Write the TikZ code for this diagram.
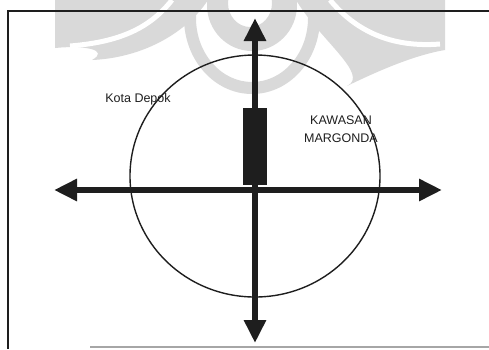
\documentclass[tikz,border=0pt]{standalone}
\usepackage{fontspec}
\setmainfont{Liberation Sans}
\usepackage{xcolor}
\usetikzlibrary{arrows.meta, positioning, shapes}
\definecolor{wmgray}{RGB}{217, 217, 217}
\definecolor{ink}{RGB}{30, 30, 30}

\begin{document}
\begin{tikzpicture}[x=1pt,y=-1pt]
        \useasboundingbox (0,0) rectangle (489,349);
        \tikzset{axis/.style={ink,line width=6pt,-{Triangle[length=23pt,width=21pt]}},
                 lbl/.style={font=\fontsize{12.5}{14}\selectfont,inner sep=0pt}}
        % watermark
        \begin{scope}
        \clip (0,0) rectangle (489,349);
        \fill[wmgray](55,0)--(208,0) .. controls (185,35) and (140,58) .. (92,60)
                 .. controls (110,50) and (85,45) .. (55,48)--cycle;
        \fill[wmgray](445,0)--(296,0) .. controls (320,40) and (370,75) .. (347,86)
                 .. controls (380,70) and (415,55) .. (445,50)--cycle;
        \draw[white,line width=5pt](172,0) .. controls (150,28) and (120,42) .. (70,46);
        \draw[white,line width=5pt](330,0) .. controls (355,30) and (390,48) .. (440,44);
        \fill[wmgray,even odd rule](252,18) ellipse[x radius=68,y radius=76]
                 (252,18) ellipse[x radius=56,y radius=64];
        \fill[wmgray,even odd rule](252,5) ellipse[x radius=45,y radius=46]
                 (250,3) ellipse[x radius=22,y radius=24];
        \end{scope}
        % frame
        \draw[ink,line width=1.5pt](489,11)--(8,11)--(8,349);
        \draw[gray!70,line width=1.5pt](90,347)--(489,347);
        % region
        \node[draw=ink,line width=1.4pt,ellipse,minimum width=250pt,minimum height=242pt,inner sep=0pt]
             (kota) at (255,176) {};
        \node[fill=ink,minimum width=24pt,minimum height=77pt,inner sep=0pt,anchor=south]
             (pusat) at (255,185) {};
        \coordinate (n) at (255,18);
        \coordinate (s) at (255,343);
        \coordinate (w) at (54,190);
        \coordinate (e) at (442,190);
        \coordinate (o) at (255,190);
        \draw[axis](o)--(n);
        \draw[axis](o)--(s);
        \draw[axis](o)--(w);
        \draw[axis](o)--(e);
        \node[lbl,ink] (depok) at (138,99){Kota Depok};
        \node[lbl,ink] (kawasan) at (341,120){KAWASAN};
        \node[lbl,ink,below=9pt of kawasan.south] (margonda) {MARGONDA};
      \end{tikzpicture}
\end{document}
